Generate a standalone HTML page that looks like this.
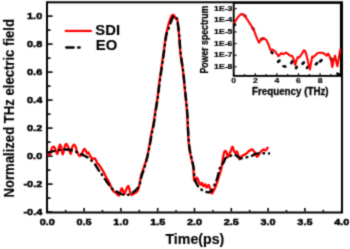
<!DOCTYPE html>
<html><head><meta charset="utf-8"><style>
html,body{margin:0;padding:0;background:#fff;}
svg{display:block;will-change:transform;}
text{font-family:"Liberation Sans",sans-serif;font-weight:bold;fill:#000;stroke:#000;stroke-width:0.12px;}
</style></head><body>
<svg width="350" height="249" viewBox="0 0 350 249">
<defs><filter id="b" x="0" y="0" width="350" height="249" filterUnits="userSpaceOnUse" color-interpolation-filters="sRGB"><feConvolveMatrix order="3" kernelMatrix="1 4 1 4 16 4 1 4 1" divisor="36" edgeMode="duplicate"/></filter></defs>
<g filter="url(#b)"><rect x="0" y="0" width="350" height="249" fill="#fff"/>
<rect x="47.0" y="2.3" width="295.0" height="210.2" fill="none" stroke="#000" stroke-width="2.0"/>
<line x1="48" y1="16.10" x2="52.60" y2="16.10" stroke="#000" stroke-width="1.6"/>
<line x1="48" y1="30.10" x2="50.60" y2="30.10" stroke="#000" stroke-width="1.6"/>
<line x1="48" y1="44.10" x2="52.60" y2="44.10" stroke="#000" stroke-width="1.6"/>
<line x1="48" y1="58.10" x2="50.60" y2="58.10" stroke="#000" stroke-width="1.6"/>
<line x1="48" y1="72.10" x2="52.60" y2="72.10" stroke="#000" stroke-width="1.6"/>
<line x1="48" y1="86.10" x2="50.60" y2="86.10" stroke="#000" stroke-width="1.6"/>
<line x1="48" y1="100.10" x2="52.60" y2="100.10" stroke="#000" stroke-width="1.6"/>
<line x1="48" y1="114.10" x2="50.60" y2="114.10" stroke="#000" stroke-width="1.6"/>
<line x1="48" y1="128.10" x2="52.60" y2="128.10" stroke="#000" stroke-width="1.6"/>
<line x1="48" y1="142.10" x2="50.60" y2="142.10" stroke="#000" stroke-width="1.6"/>
<line x1="48" y1="156.10" x2="52.60" y2="156.10" stroke="#000" stroke-width="1.6"/>
<line x1="48" y1="170.10" x2="50.60" y2="170.10" stroke="#000" stroke-width="1.6"/>
<line x1="48" y1="184.10" x2="52.60" y2="184.10" stroke="#000" stroke-width="1.6"/>
<line x1="48" y1="198.10" x2="50.60" y2="198.10" stroke="#000" stroke-width="1.6"/>
<line x1="48" y1="212.10" x2="52.60" y2="212.10" stroke="#000" stroke-width="1.6"/>
<line x1="47.30" y1="211.6" x2="47.30" y2="208.00" stroke="#000" stroke-width="1.6"/>
<line x1="65.70" y1="211.6" x2="65.70" y2="209.90" stroke="#000" stroke-width="1.6"/>
<line x1="84.10" y1="211.6" x2="84.10" y2="208.00" stroke="#000" stroke-width="1.6"/>
<line x1="102.50" y1="211.6" x2="102.50" y2="209.90" stroke="#000" stroke-width="1.6"/>
<line x1="120.90" y1="211.6" x2="120.90" y2="208.00" stroke="#000" stroke-width="1.6"/>
<line x1="139.30" y1="211.6" x2="139.30" y2="209.90" stroke="#000" stroke-width="1.6"/>
<line x1="157.70" y1="211.6" x2="157.70" y2="208.00" stroke="#000" stroke-width="1.6"/>
<line x1="176.10" y1="211.6" x2="176.10" y2="209.90" stroke="#000" stroke-width="1.6"/>
<line x1="194.50" y1="211.6" x2="194.50" y2="208.00" stroke="#000" stroke-width="1.6"/>
<line x1="212.90" y1="211.6" x2="212.90" y2="209.90" stroke="#000" stroke-width="1.6"/>
<line x1="231.30" y1="211.6" x2="231.30" y2="208.00" stroke="#000" stroke-width="1.6"/>
<line x1="249.70" y1="211.6" x2="249.70" y2="209.90" stroke="#000" stroke-width="1.6"/>
<line x1="268.10" y1="211.6" x2="268.10" y2="208.00" stroke="#000" stroke-width="1.6"/>
<line x1="286.50" y1="211.6" x2="286.50" y2="209.90" stroke="#000" stroke-width="1.6"/>
<line x1="304.90" y1="211.6" x2="304.90" y2="208.00" stroke="#000" stroke-width="1.6"/>
<line x1="323.30" y1="211.6" x2="323.30" y2="209.90" stroke="#000" stroke-width="1.6"/>
<line x1="341.70" y1="211.6" x2="341.70" y2="208.00" stroke="#000" stroke-width="1.6"/>
<text transform="translate(42.20 19.10) scale(1.1 1.0)" x="0" style="font-size:9.9px;stroke-width:0.5px" text-anchor="end">1.0</text>
<text transform="translate(42.20 47.10) scale(1.1 1.0)" x="0" style="font-size:9.9px;stroke-width:0.5px" text-anchor="end">0.8</text>
<text transform="translate(42.20 75.10) scale(1.1 1.0)" x="0" style="font-size:9.9px;stroke-width:0.5px" text-anchor="end">0.6</text>
<text transform="translate(42.20 103.10) scale(1.1 1.0)" x="0" style="font-size:9.9px;stroke-width:0.5px" text-anchor="end">0.4</text>
<text transform="translate(42.20 131.10) scale(1.1 1.0)" x="0" style="font-size:9.9px;stroke-width:0.5px" text-anchor="end">0.2</text>
<text transform="translate(42.20 159.10) scale(1.1 1.0)" x="0" style="font-size:9.9px;stroke-width:0.5px" text-anchor="end">0.0</text>
<text transform="translate(42.20 187.10) scale(1.1 1.0)" x="0" style="font-size:9.9px;stroke-width:0.5px" text-anchor="end">-0.2</text>
<text transform="translate(42.20 215.10) scale(1.1 1.0)" x="0" style="font-size:9.9px;stroke-width:0.5px" text-anchor="end">-0.4</text>
<text transform="translate(47.30 224.50) scale(1.1 1.0)" x="0" style="font-size:9.9px;stroke-width:0.5px" text-anchor="middle">0.0</text>
<text transform="translate(84.10 224.50) scale(1.1 1.0)" x="0" style="font-size:9.9px;stroke-width:0.5px" text-anchor="middle">0.5</text>
<text transform="translate(120.90 224.50) scale(1.1 1.0)" x="0" style="font-size:9.9px;stroke-width:0.5px" text-anchor="middle">1.0</text>
<text transform="translate(157.70 224.50) scale(1.1 1.0)" x="0" style="font-size:9.9px;stroke-width:0.5px" text-anchor="middle">1.5</text>
<text transform="translate(194.50 224.50) scale(1.1 1.0)" x="0" style="font-size:9.9px;stroke-width:0.5px" text-anchor="middle">2.0</text>
<text transform="translate(231.30 224.50) scale(1.1 1.0)" x="0" style="font-size:9.9px;stroke-width:0.5px" text-anchor="middle">2.5</text>
<text transform="translate(268.10 224.50) scale(1.1 1.0)" x="0" style="font-size:9.9px;stroke-width:0.5px" text-anchor="middle">3.0</text>
<text transform="translate(304.90 224.50) scale(1.1 1.0)" x="0" style="font-size:9.9px;stroke-width:0.5px" text-anchor="middle">3.5</text>
<text transform="translate(341.70 224.50) scale(1.1 1.0)" x="0" style="font-size:9.9px;stroke-width:0.5px" text-anchor="middle">4.0</text>
<text transform="translate(194.90 243.50)" x="0" style="font-size:14.2px" text-anchor="middle">Time(ps)</text>
<text transform="translate(14.00 108.25) rotate(-90) scale(0.905 1.0)" x="0" style="font-size:14.5px" text-anchor="middle">Normalized THz electric field</text>
<line x1="64.9" y1="30.95" x2="91.9" y2="30.95" stroke="#f00" stroke-width="2.2"/>
<line x1="66.3" y1="47.4" x2="73.5" y2="47.4" stroke="#000" stroke-width="2.5" stroke-linecap="round"/>
<line x1="78.2" y1="47.4" x2="79.5" y2="47.4" stroke="#000" stroke-width="2.5" stroke-linecap="round"/>
<text transform="translate(95.30 34.60) scale(1.06 1.0)" x="0" style="font-size:14px" text-anchor="start">SDI</text>
<text transform="translate(95.80 50.30) scale(1.06 1.0)" x="0" style="font-size:14px" text-anchor="start">EO</text>
<path d="M47.30,155.20 C47.80,154.98 49.58,155.00 50.30,153.90 C51.02,152.80 51.15,149.78 51.60,148.60 C52.05,147.42 52.48,146.95 53.00,146.80 C53.52,146.65 54.20,146.95 54.70,147.70 C55.20,148.45 55.55,150.27 56.00,151.30 C56.45,152.33 56.95,154.35 57.40,153.90 C57.85,153.45 58.27,150.15 58.70,148.60 C59.13,147.05 59.57,144.75 60.00,144.60 C60.43,144.45 60.87,146.10 61.30,147.70 C61.73,149.30 62.15,153.90 62.60,154.20 C63.05,154.50 63.55,151.03 64.00,149.50 C64.45,147.97 64.87,145.88 65.30,145.00 C65.73,144.12 66.08,143.75 66.60,144.20 C67.12,144.65 67.72,146.08 68.40,147.70 C69.08,149.32 70.08,153.90 70.70,153.90 C71.32,153.90 71.58,149.25 72.10,147.70 C72.62,146.15 73.22,144.82 73.80,144.60 C74.38,144.38 75.08,145.28 75.60,146.40 C76.12,147.52 76.23,149.68 76.90,151.30 C77.57,152.92 78.78,155.60 79.60,156.10 C80.42,156.60 81.07,155.48 81.80,154.30 C82.53,153.12 83.33,149.58 84.00,149.00 C84.67,148.42 85.28,150.07 85.80,150.80 C86.32,151.53 86.70,153.15 87.10,153.40 C87.50,153.65 87.85,152.20 88.20,152.30 C88.55,152.40 88.77,153.22 89.20,154.00 C89.63,154.78 90.17,156.20 90.80,157.00 C91.43,157.80 92.30,158.53 93.00,158.80 C93.70,159.07 94.30,157.93 95.00,158.60 C95.70,159.27 96.55,161.77 97.20,162.80 C97.85,163.83 98.20,163.87 98.90,164.80 C99.60,165.73 100.55,167.05 101.40,168.40 C102.25,169.75 103.13,171.30 104.00,172.90 C104.87,174.50 105.73,176.40 106.60,178.00 C107.47,179.60 108.45,181.00 109.20,182.50 C109.95,184.00 110.42,185.58 111.10,187.00 C111.78,188.42 112.48,190.00 113.30,191.00 C114.12,192.00 115.05,192.25 116.00,193.00 C116.95,193.75 118.17,196.00 119.00,195.50 C119.83,195.00 120.50,191.17 121.00,190.00 C121.50,188.83 121.58,188.17 122.00,188.50 C122.42,188.83 123.08,191.08 123.50,192.00 C123.92,192.92 124.00,194.50 124.50,194.00 C125.00,193.50 125.83,190.33 126.50,189.00 C127.17,187.67 127.88,185.42 128.50,186.00 C129.12,186.58 129.70,191.00 130.20,192.50 C130.70,194.00 130.88,194.83 131.50,195.00 C132.12,195.17 133.00,194.05 133.90,193.50 C134.80,192.95 136.10,192.62 136.90,191.70 C137.70,190.78 138.20,189.62 138.70,188.00 C139.20,186.38 139.50,184.08 139.90,182.00 C140.30,179.92 140.67,177.25 141.10,175.50 C141.53,173.75 141.93,173.17 142.50,171.50 C143.07,169.83 143.75,167.83 144.50,165.50 C145.25,163.17 146.28,160.25 147.00,157.50 C147.72,154.75 148.25,151.92 148.80,149.00 C149.35,146.08 149.82,142.83 150.30,140.00 C150.78,137.17 151.20,134.50 151.70,132.00 C152.20,129.50 152.78,127.83 153.30,125.00 C153.82,122.17 154.30,118.33 154.80,115.00 C155.30,111.67 155.85,107.83 156.30,105.00 C156.75,102.17 157.15,100.50 157.50,98.00 C157.85,95.50 158.03,93.00 158.40,90.00 C158.77,87.00 159.25,83.33 159.70,80.00 C160.15,76.67 160.63,73.33 161.10,70.00 C161.57,66.67 162.07,63.00 162.50,60.00 C162.93,57.00 163.27,55.15 163.70,52.00 C164.13,48.85 164.68,44.12 165.10,41.10 C165.52,38.08 165.85,35.75 166.20,33.90 C166.55,32.05 166.82,31.60 167.20,30.00 C167.58,28.40 168.03,26.00 168.50,24.30 C168.97,22.60 169.50,21.18 170.00,19.80 C170.50,18.42 171.08,16.80 171.50,16.00 C171.92,15.20 172.08,15.13 172.50,15.00 C172.92,14.87 173.52,14.65 174.00,15.20 C174.48,15.75 174.90,17.70 175.40,18.30 C175.90,18.90 176.63,18.10 177.00,18.80 C177.37,19.50 177.38,20.88 177.60,22.50 C177.82,24.12 178.07,26.42 178.30,28.50 C178.53,30.58 178.80,32.90 179.00,35.00 C179.20,37.10 179.27,38.07 179.50,41.10 C179.73,44.13 180.02,49.55 180.40,53.20 C180.78,56.85 181.35,59.87 181.80,63.00 C182.25,66.13 182.68,68.48 183.10,72.00 C183.52,75.52 183.90,80.08 184.30,84.10 C184.70,88.12 185.10,92.12 185.50,96.10 C185.90,100.08 186.37,104.02 186.70,108.00 C187.03,111.98 187.30,116.33 187.50,120.00 C187.70,123.67 187.73,126.67 187.90,130.00 C188.07,133.33 188.27,137.00 188.50,140.00 C188.73,143.00 188.95,145.50 189.30,148.00 C189.65,150.50 190.15,152.83 190.60,155.00 C191.05,157.17 191.58,159.17 192.00,161.00 C192.42,162.83 192.85,164.50 193.10,166.00 C193.35,167.50 193.35,167.73 193.50,170.00 C193.65,172.27 193.70,177.78 194.00,179.60 C194.30,181.42 194.87,181.23 195.30,180.90 C195.73,180.57 196.15,177.82 196.60,177.60 C197.05,177.38 197.55,178.72 198.00,179.60 C198.45,180.48 198.87,182.02 199.30,182.90 C199.73,183.78 200.17,184.90 200.60,184.90 C201.03,184.90 201.45,182.68 201.90,182.90 C202.35,183.12 202.75,185.98 203.30,186.20 C203.85,186.42 204.65,183.98 205.20,184.20 C205.75,184.42 206.03,187.38 206.60,187.50 C207.17,187.62 208.05,184.78 208.60,184.90 C209.15,185.02 209.47,187.10 209.90,188.20 C210.33,189.30 210.87,190.62 211.20,191.50 C211.53,192.38 211.57,193.50 211.90,193.50 C212.23,193.50 212.65,192.50 213.20,191.50 C213.75,190.50 214.53,189.05 215.20,187.50 C215.87,185.95 216.53,184.18 217.20,182.20 C217.87,180.22 218.53,177.80 219.20,175.60 C219.87,173.40 220.68,171.18 221.20,169.00 C221.72,166.82 221.92,164.83 222.30,162.50 C222.68,160.17 223.05,156.92 223.50,155.00 C223.95,153.08 224.48,151.42 225.00,151.00 C225.52,150.58 226.10,151.45 226.60,152.50 C227.10,153.55 227.43,157.22 228.00,157.30 C228.57,157.38 229.42,154.38 230.00,153.00 C230.58,151.62 231.07,150.03 231.50,149.00 C231.93,147.97 232.17,146.38 232.60,146.80 C233.03,147.22 233.62,150.47 234.10,151.50 C234.58,152.53 235.02,153.00 235.50,153.00 C235.98,153.00 236.53,151.08 237.00,151.50 C237.47,151.92 237.88,154.18 238.30,155.50 C238.72,156.82 238.88,159.32 239.50,159.40 C240.12,159.48 240.92,156.90 242.00,156.00 C243.08,155.10 244.83,154.83 246.00,154.00 C247.17,153.17 248.00,151.75 249.00,151.00 C250.00,150.25 251.17,149.42 252.00,149.50 C252.83,149.58 253.42,150.75 254.00,151.50 C254.58,152.25 255.00,153.12 255.50,154.00 C256.00,154.88 256.50,156.63 257.00,156.80 C257.50,156.97 258.00,155.72 258.50,155.00 C259.00,154.28 259.48,153.17 260.00,152.50 C260.52,151.83 261.10,151.48 261.60,151.00 C262.10,150.52 262.50,149.77 263.00,149.60 C263.50,149.43 264.17,149.87 264.60,150.00 C265.03,150.13 265.20,150.65 265.60,150.40 C266.00,150.15 266.55,149.07 267.00,148.50 C267.45,147.93 268.08,147.25 268.30,147.00" fill="none" stroke="#f00" stroke-width="2.3" stroke-linejoin="round"/>
<path d="M47.30,152.60 C47.92,152.47 49.72,152.10 51.00,151.80 C52.28,151.50 53.50,151.10 55.00,150.80 C56.50,150.50 58.33,150.22 60.00,150.00 C61.67,149.78 63.33,149.53 65.00,149.50 C66.67,149.47 68.33,149.48 70.00,149.80 C71.67,150.12 73.33,150.78 75.00,151.40 C76.67,152.02 78.33,152.73 80.00,153.50 C81.67,154.27 83.50,155.18 85.00,156.00 C86.50,156.82 87.43,157.13 89.00,158.40 C90.57,159.67 92.90,161.80 94.40,163.60 C95.90,165.40 96.90,167.58 98.00,169.20 C99.10,170.82 100.00,171.87 101.00,173.30 C102.00,174.73 102.83,176.10 104.00,177.80 C105.17,179.50 106.67,181.70 108.00,183.50 C109.33,185.30 110.75,187.35 112.00,188.60 C113.25,189.85 114.17,190.18 115.50,191.00 C116.83,191.82 118.33,192.83 120.00,193.50 C121.67,194.17 123.78,194.92 125.50,195.00 C127.22,195.08 128.80,194.63 130.30,194.00 C131.80,193.37 133.30,192.15 134.50,191.20 C135.70,190.25 136.67,189.28 137.50,188.30 C138.33,187.32 138.98,186.60 139.50,185.30 C140.02,184.00 140.27,181.97 140.60,180.50 C140.93,179.03 141.02,178.17 141.50,176.50 C141.98,174.83 142.83,172.55 143.50,170.50 C144.17,168.45 144.83,166.58 145.50,164.20 C146.17,161.82 146.88,158.90 147.50,156.20 C148.12,153.50 148.67,150.70 149.20,148.00 C149.73,145.30 150.22,142.67 150.70,140.00 C151.18,137.33 151.62,134.50 152.10,132.00 C152.58,129.50 153.10,127.83 153.60,125.00 C154.10,122.17 154.60,118.33 155.10,115.00 C155.60,111.67 156.15,107.83 156.60,105.00 C157.05,102.17 157.45,100.50 157.80,98.00 C158.15,95.50 158.33,93.00 158.70,90.00 C159.07,87.00 159.55,83.33 160.00,80.00 C160.45,76.67 160.93,73.33 161.40,70.00 C161.87,66.67 162.37,63.00 162.80,60.00 C163.23,57.00 163.57,55.15 164.00,52.00 C164.43,48.85 164.97,44.12 165.40,41.10 C165.83,38.08 166.10,35.87 166.60,33.90 C167.10,31.93 167.75,31.12 168.40,29.30 C169.05,27.48 169.77,24.98 170.50,23.00 C171.23,21.02 172.17,18.57 172.80,17.40 C173.43,16.23 173.88,15.90 174.30,16.00 C174.72,16.10 174.87,17.60 175.30,18.00 C175.73,18.40 176.50,17.73 176.90,18.40 C177.30,19.07 177.43,20.32 177.70,22.00 C177.97,23.68 178.25,26.33 178.50,28.50 C178.75,30.67 179.00,32.90 179.20,35.00 C179.40,37.10 179.47,38.07 179.70,41.10 C179.93,44.13 180.22,49.55 180.60,53.20 C180.98,56.85 181.55,59.87 182.00,63.00 C182.45,66.13 182.88,68.48 183.30,72.00 C183.72,75.52 184.10,80.08 184.50,84.10 C184.90,88.12 185.30,92.12 185.70,96.10 C186.10,100.08 186.57,104.02 186.90,108.00 C187.23,111.98 187.50,116.33 187.70,120.00 C187.90,123.67 187.93,126.67 188.10,130.00 C188.27,133.33 188.47,137.00 188.70,140.00 C188.93,143.00 189.15,145.50 189.50,148.00 C189.85,150.50 190.35,152.83 190.80,155.00 C191.25,157.17 191.78,159.17 192.20,161.00 C192.62,162.83 193.00,164.23 193.30,166.00 C193.60,167.77 193.78,169.55 194.00,171.60 C194.22,173.65 194.27,176.53 194.60,178.30 C194.93,180.07 195.43,180.88 196.00,182.20 C196.57,183.52 197.17,185.02 198.00,186.20 C198.83,187.38 199.90,188.42 201.00,189.30 C202.10,190.18 203.45,191.02 204.60,191.50 C205.75,191.98 207.02,192.08 207.90,192.20 C208.78,192.32 209.23,192.53 209.90,192.20 C210.57,191.87 211.13,191.42 211.90,190.20 C212.67,188.98 213.62,186.88 214.50,184.90 C215.38,182.92 216.37,180.93 217.20,178.30 C218.03,175.67 218.78,171.22 219.50,169.10 C220.22,166.98 220.75,166.85 221.50,165.60 C222.25,164.35 223.32,162.85 224.00,161.60 C224.68,160.35 224.60,159.00 225.60,158.10 C226.60,157.20 228.58,156.80 230.00,156.20 C231.42,155.60 232.77,154.40 234.10,154.50 C235.43,154.60 236.85,156.15 238.00,156.80 C239.15,157.45 239.67,158.28 241.00,158.40 C242.33,158.52 244.23,157.90 246.00,157.50 C247.77,157.10 250.10,156.55 251.60,156.00 C253.10,155.45 253.68,154.65 255.00,154.20 C256.32,153.75 257.95,153.45 259.50,153.30 C261.05,153.15 262.70,153.27 264.30,153.30 C265.90,153.33 268.30,153.47 269.10,153.50" fill="none" stroke="#000" stroke-width="2.4" stroke-dasharray="7.3 4.7 0.8 4.7" stroke-linecap="round" stroke-linejoin="round"/>
<rect x="233.7" y="2.9" width="107.2" height="73.0" fill="none" stroke="#000" stroke-width="1.9"/>
<line x1="234.5" y1="8.70" x2="236.6" y2="8.70" stroke="#000" stroke-width="1.2"/>
<text transform="translate(232.30 10.70) scale(1.12 1.0)" x="0" style="font-size:7.7px;stroke-width:0.25px" text-anchor="end">1E-3</text>
<line x1="234.5" y1="20.32" x2="236.6" y2="20.32" stroke="#000" stroke-width="1.2"/>
<text transform="translate(232.30 22.32) scale(1.12 1.0)" x="0" style="font-size:7.7px;stroke-width:0.25px" text-anchor="end">1E-4</text>
<line x1="234.5" y1="31.94" x2="236.6" y2="31.94" stroke="#000" stroke-width="1.2"/>
<text transform="translate(232.30 33.94) scale(1.12 1.0)" x="0" style="font-size:7.7px;stroke-width:0.25px" text-anchor="end">1E-5</text>
<line x1="234.5" y1="43.56" x2="236.6" y2="43.56" stroke="#000" stroke-width="1.2"/>
<text transform="translate(232.30 45.56) scale(1.12 1.0)" x="0" style="font-size:7.7px;stroke-width:0.25px" text-anchor="end">1E-6</text>
<line x1="234.5" y1="55.18" x2="236.6" y2="55.18" stroke="#000" stroke-width="1.2"/>
<text transform="translate(232.30 57.18) scale(1.12 1.0)" x="0" style="font-size:7.7px;stroke-width:0.25px" text-anchor="end">1E-7</text>
<line x1="234.5" y1="66.80" x2="236.6" y2="66.80" stroke="#000" stroke-width="1.2"/>
<text transform="translate(232.30 68.80) scale(1.12 1.0)" x="0" style="font-size:7.7px;stroke-width:0.25px" text-anchor="end">1E-8</text>
<line x1="233.70" y1="75.5" x2="233.70" y2="73.30" stroke="#000" stroke-width="1.2"/>
<text transform="translate(233.70 83.20) scale(1.12 1.0)" x="0" style="font-size:7.7px;stroke-width:0.2px" text-anchor="middle">0</text>
<line x1="244.50" y1="75.5" x2="244.50" y2="74.10" stroke="#000" stroke-width="1.2"/>
<line x1="255.30" y1="75.5" x2="255.30" y2="73.30" stroke="#000" stroke-width="1.2"/>
<text transform="translate(255.30 83.20) scale(1.12 1.0)" x="0" style="font-size:7.7px;stroke-width:0.2px" text-anchor="middle">2</text>
<line x1="266.10" y1="75.5" x2="266.10" y2="74.10" stroke="#000" stroke-width="1.2"/>
<line x1="276.90" y1="75.5" x2="276.90" y2="73.30" stroke="#000" stroke-width="1.2"/>
<text transform="translate(276.90 83.20) scale(1.12 1.0)" x="0" style="font-size:7.7px;stroke-width:0.2px" text-anchor="middle">4</text>
<line x1="287.70" y1="75.5" x2="287.70" y2="74.10" stroke="#000" stroke-width="1.2"/>
<line x1="298.50" y1="75.5" x2="298.50" y2="73.30" stroke="#000" stroke-width="1.2"/>
<text transform="translate(298.50 83.20) scale(1.12 1.0)" x="0" style="font-size:7.7px;stroke-width:0.2px" text-anchor="middle">6</text>
<line x1="309.30" y1="75.5" x2="309.30" y2="74.10" stroke="#000" stroke-width="1.2"/>
<line x1="320.10" y1="75.5" x2="320.10" y2="73.30" stroke="#000" stroke-width="1.2"/>
<text transform="translate(320.10 83.20) scale(1.12 1.0)" x="0" style="font-size:7.7px;stroke-width:0.2px" text-anchor="middle">8</text>
<line x1="330.90" y1="75.5" x2="330.90" y2="74.10" stroke="#000" stroke-width="1.2"/>
<line x1="341.70" y1="75.5" x2="341.70" y2="73.30" stroke="#000" stroke-width="1.2"/>
<text transform="translate(290.30 94.60) scale(0.96 1.0)" x="0" style="font-size:10.2px;stroke-width:0.3px" text-anchor="middle">Frequency (THz)</text>
<text transform="translate(208.00 39.60) rotate(-90) scale(0.874 1.0)" x="0" style="font-size:10px;stroke-width:0.25px" text-anchor="middle">Power spectrum</text>
<line x1="234.75" y1="24.60" x2="235.05" y2="24.60" transform="rotate(60 234.9 24.6)" stroke="#000" stroke-width="2.7" stroke-linecap="round"/>
<line x1="244.00" y1="15.80" x2="245.60" y2="15.80" transform="rotate(40 244.8 15.8)" stroke="#000" stroke-width="2.7" stroke-linecap="round"/>
<line x1="252.20" y1="28.80" x2="254.00" y2="28.80" transform="rotate(55 253.1 28.8)" stroke="#000" stroke-width="2.7" stroke-linecap="round"/>
<line x1="261.10" y1="38.90" x2="263.10" y2="38.90" transform="rotate(-10 262.1 38.9)" stroke="#000" stroke-width="2.7" stroke-linecap="round"/>
<line x1="271.40" y1="52.60" x2="272.60" y2="52.60" transform="rotate(40 272 52.6)" stroke="#000" stroke-width="2.7" stroke-linecap="round"/>
<line x1="277.90" y1="61.20" x2="279.70" y2="61.20" transform="rotate(-40 278.8 61.2)" stroke="#000" stroke-width="2.7" stroke-linecap="round"/>
<line x1="283.50" y1="66.40" x2="285.30" y2="66.40" transform="rotate(8 284.4 66.4)" stroke="#000" stroke-width="2.7" stroke-linecap="round"/>
<line x1="290.90" y1="62.30" x2="292.70" y2="62.30" transform="rotate(-60 291.8 62.3)" stroke="#000" stroke-width="2.7" stroke-linecap="round"/>
<line x1="295.80" y1="67.50" x2="297.00" y2="67.50" transform="rotate(-60 296.4 67.5)" stroke="#000" stroke-width="2.7" stroke-linecap="round"/>
<line x1="302.30" y1="63.10" x2="304.10" y2="63.10" transform="rotate(-45 303.2 63.1)" stroke="#000" stroke-width="2.7" stroke-linecap="round"/>
<line x1="306.80" y1="67.40" x2="308.00" y2="67.40" transform="rotate(-60 307.4 67.4)" stroke="#000" stroke-width="2.7" stroke-linecap="round"/>
<line x1="315.60" y1="63.70" x2="317.40" y2="63.70" transform="rotate(-45 316.5 63.7)" stroke="#000" stroke-width="2.7" stroke-linecap="round"/>
<line x1="319.90" y1="60.80" x2="321.70" y2="60.80" transform="rotate(-40 320.8 60.8)" stroke="#000" stroke-width="2.7" stroke-linecap="round"/>
<line x1="330.65" y1="59.20" x2="332.15" y2="59.20" transform="rotate(60 331.4 59.2)" stroke="#000" stroke-width="2.7" stroke-linecap="round"/>
<line x1="337.30" y1="74.00" x2="339.10" y2="74.00" transform="rotate(30 338.2 74)" stroke="#000" stroke-width="2.7" stroke-linecap="round"/>
<polyline points="234.0,23.3 237.2,18.2 240.0,14.8 242.0,13.9 244.5,15.4 247.7,20.3 250.9,25.1 254.1,30.7 256.5,37.1 258.9,42.6 261.3,39.5 263.6,38.1 266.3,39.9 268.7,45.0 270.3,49.6 273.0,49.9 275.2,51.5 278.4,56.2 281.2,53.1 283.3,54.2 286.0,52.6 288.2,54.2 290.4,55.8 292.0,55.8 293.6,59.1 295.2,65.0 296.8,59.1 297.8,57.1 299.0,57.7 300.8,55.3 302.6,52.6 303.8,50.4 305.0,51.0 306.2,54.0 307.4,58.9 308.7,64.9 309.9,69.5 311.1,62.5 312.3,56.5 313.5,57.1 315.3,55.3 317.1,53.5 318.9,52.8 322.1,52.7 325.2,54.2 326.7,55.7 328.2,53.5 329.7,56.5 331.3,61.1 332.3,67.0 333.6,60.3 335.1,55.7 336.6,63.4 337.4,66.2 338.9,57.3 340.4,48.9" fill="none" stroke="#f00" stroke-width="2.1" stroke-linejoin="round"/>
</g>
</svg>
</body></html>
